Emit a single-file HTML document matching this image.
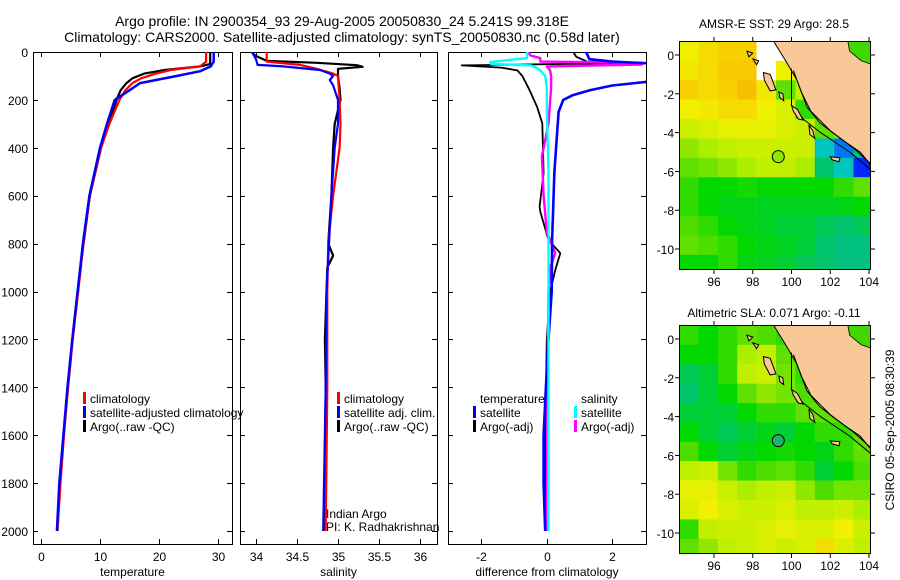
<!DOCTYPE html>
<html><head><meta charset="utf-8"><title>Argo profile</title>
<style>
html,body{margin:0;padding:0;background:#fff;}
svg{display:block;font-family:"Liberation Sans",sans-serif;}
text{font-family:"Liberation Sans",sans-serif;fill:#000;}
</style></head>
<body>
<svg id="fig" width="900" height="580" viewBox="0 0 900 580" xmlns="http://www.w3.org/2000/svg">
<text x="342" y="26" font-size="14" text-anchor="middle">Argo profile: IN 2900354_93 29-Aug-2005 20050830_24 5.241S 99.318E</text>
<text x="342" y="42" font-size="14" text-anchor="middle">Climatology: CARS2000. Satellite-adjusted climatology: synTS_20050830.nc (0.58d later)</text>
<text x="774" y="28" font-size="12" text-anchor="middle">AMSR-E SST: 29 Argo: 28.5</text>
<text x="774" y="317" font-size="12" text-anchor="middle">Altimetric SLA: 0.071 Argo: -0.11</text>
<text x="0" y="0" font-size="12" text-anchor="middle" transform="translate(894,430) rotate(-90)">CSIRO 05-Sep-2005 08:30:39</text>
<g id="layer"></g>
</svg>
<script>
// ---------- profile data ----------
const tArgoDepth = [0,50,60,75,90,110,130,160,200,300,400,600,800,1000,1200,1400,1600,1800,2000];
const tArgo      = [28.7,28.7,27,21,17.5,15.5,14.5,13.5,12.8,11.5,10.2,8.3,7.2,6.2,5.3,4.5,3.8,3.2,2.8];
const tClimDepth = [0,40,60,75,90,110,130,160,200,300,400,600,800,1000,1200,1400,1600,1800,2000];
const tClim      = [28,28,27,22,19.5,17,15.5,14.3,13.3,11.6,10.2,8.3,7.2,6.3,5.4,4.6,3.9,3.3,2.8];
const tSatDepth  = [0,40,60,80,100,130,160,200,300,400,600,800,1000,1200,1400,1600,1800,2000];
const tSat       = [29.3,29.3,28.8,27,23,16.8,15,12.5,11.2,10.0,8.2,7.1,6.2,5.3,4.5,3.8,3.1,2.7];

const sArgoDepth = [0,15,37,45,55,62,70,100,150,200,300,400,600,800,850,900,1000,1200,1400,2000];
const sArgo      = [33.95,33.99,34.13,34.74,35.23,35.3,35.0,35.0,35.02,35.03,34.96,34.94,34.92,34.88,34.94,34.87,34.86,34.84,34.85,34.83];
const sClimDepth = [0,30,40,54,70,90,100,200,300,400,600,800,1000,1400,2000];
const sClim      = [34.13,34.13,34.13,34.54,34.74,34.94,35.0,35.02,35.03,35.02,34.94,34.88,34.87,34.87,34.85];
const sSatDepth  = [0,30,54,56,60,75,90,100,117,139,200,300,400,600,800,1000,1400,2000];
const sSat       = [33.95,34.0,34.02,34.13,34.33,34.78,34.9,34.94,34.9,34.94,35.0,35.0,34.96,34.92,34.89,34.86,34.85,34.82];

const dTSatDepth = [0,30,40,50,100,124,140,159,180,200,250,500,785,1000,1200,1400,1600,1800,2000];
const dTSat      = [1.2,1.3,2.0,3.5,3.5,3.1,2.0,1.33,0.8,0.5,0.36,0.23,0.16,0.15,0.05,-0.03,-0.1,-0.1,-0.05];
const dTArgoDepth= [0,20,40,46,49,56,65,77,100,150,228,298,506,646,667,785,840,910,1000,1200,1600,2000];
const dTArgo     = [0.81,0.9,1.23,2.95,1.0,-2.6,-1.4,-0.9,-0.75,-0.56,-0.3,-0.14,-0.1,-0.22,-0.2,0.05,0.41,0.26,0.1,0.0,-0.05,-0.05];
const dSArgoDepth= [0,15,25,40,45,52,60,77,100,150,300,437,600,750,840,900,1000,1400,2000];
const dSArgo     = [-0.56,-0.5,-0.2,-0.2,2.95,2.9,0.0,0.1,0.13,0.13,0.05,-0.15,-0.1,0.0,0.26,0.1,0.05,0.02,0.0];
const dSSatDepth = [0,25,42,50,56,67,77,100,150,228,500,1000,1500,2000];
const dSSat      = [-0.6,-0.6,-1.73,-1.7,-0.5,-0.3,-0.2,-0.05,0.0,0.0,0.05,0.05,0.05,0.05];

const depthTicks = [0,200,400,600,800,1000,1200,1400,1600,1800,2000];
const tempTicks = [0,10,20,30];
const salTicks = [34,34.5,35,35.5,36];
const salTickLabels = ["34","34.5","35","35.5","36"];
const diffTicks = [-2,0,2];

// ---------- map data (1-degree cells, rows from lat 0.7 southward, cols from lon 94.2 eastward; -1 land, -2 missing) ----------
const mapLons = [94.2,95.2,96.2,97.2,98.2,99.2,100.2,101.2,102.2,103.2];
const mapLats = [0.7,-0.3,-1.3,-2.3,-3.3,-4.3,-5.3,-6.3,-7.3,-8.3,-9.3,-10.3];
const sstCells = [
 [.80,.85,.88,.88,-2,-2,-1,-1,-1,-1],
 [.82,.85,.90,.90,-2,.80,.95,-1,-1,-1],
 [.88,.85,.88,.92,.82,.60,.70,-1,-1,-1],
 [.80,.82,.85,.85,.80,.75,.55,.60,-1,-1],
 [.72,.75,.78,.78,.78,.75,.72,.60,.65,-1],
 [.65,.68,.70,.72,.72,.72,.72,.30,.20,.40],
 [.60,.62,.65,.68,.70,.70,.68,.40,.30,.15],
 [.55,.50,.50,.52,.50,.50,.50,.50,.55,.60],
 [.55,.50,.48,.48,.47,.47,.47,.47,.48,.50],
 [.58,.55,.50,.48,.47,.45,.45,.42,.40,.42],
 [.60,.58,.55,.50,.48,.47,.45,.40,.38,.38],
 [.50,.50,.55,.48,.47,.45,.42,.40,.38,.38]
];
const slaCells = [
 [.55,.50,.55,.60,.58,.55,-1,-1,-1,-1],
 [.50,.50,.55,.68,.70,.60,.55,-1,-1,-1],
 [.42,.45,.55,.70,.72,.62,.55,-1,-1,-1],
 [.40,.45,.50,.60,.65,.62,.58,.55,-1,-1],
 [.45,.45,.45,.50,.55,.55,.60,.60,.58,-1],
 [.50,.45,.42,.45,.48,.45,.50,.55,.55,.60],
 [.58,.50,.45,.48,.50,.52,.50,.48,.55,.60],
 [.70,.72,.62,.55,.58,.60,.55,.45,.50,.58],
 [.78,.78,.72,.68,.70,.72,.65,.58,.62,.62],
 [.75,.80,.75,.72,.72,.75,.70,.70,.72,.68],
 [.55,.70,.72,.72,.75,.78,.75,.75,.80,.72],
 [.60,.65,.70,.72,.75,.72,.75,.85,.75,.70]
];
const coastLon = [99.05,99.77,100.28,100.8,101.47,102.14,102.86,103.54,104.2,104.2];
const coastLat = [0.75,-0.41,-1.29,-2.68,-3.5,-4.02,-4.54,-5.0,-5.8,0.75];
const argoLon = 99.318, argoLat = -5.241;

const NS="http://www.w3.org/2000/svg";
const layer=document.getElementById('layer');
function mk(tag,attrs,parent){const e=document.createElementNS(NS,tag);for(const k in attrs)e.setAttribute(k,attrs[k]);(parent||layer).appendChild(e);return e;}

// depth axis
const depthTop=52, depthPx=0.2395;
function yD(d){return depthTop+d*depthPx;}
const panelBottom=544;

const panels=[
 {name:'temperature-panel',x0:33,x1:232,v0:-1.36,v1:32.4,ticks:tempTicks,labels:tempTicks.map(String),xlabel:'temperature'},
 {name:'salinity-panel',x0:240,x1:437,v0:33.805,v1:36.207,ticks:salTicks,labels:salTickLabels,xlabel:'salinity'},
 {name:'difference-panel',x0:448,x1:646,v0:-3.02,v1:3.03,ticks:diffTicks,labels:diffTicks.map(String),xlabel:'difference from climatology'}
];
panels.forEach((p,i)=>{
 p.sx=v=>p.x0+(v-p.v0)/(p.v1-p.v0)*(p.x1-p.x0);
 const g=mk('g',{});
 
 
 const cp=mk('clipPath',{id:'clip'+i},g);
 mk('rect',{x:p.x0,y:depthTop,width:p.x1-p.x0,height:panelBottom-depthTop},cp);
 p.g=g;
 const fr=mk('rect',{x:p.x0+0.5,y:depthTop+0.5,width:p.x1-p.x0,height:panelBottom-depthTop,fill:'none',stroke:'#000','stroke-width':1},g);
 
 
 p.ticks.forEach((t,k)=>{
  const x=Math.round(p.sx(t))+0.5;
  mk('line',{x1:x,x2:x,y1:panelBottom,y2:panelBottom-5,stroke:'#000'},g);
  mk('line',{x1:x,x2:x,y1:depthTop,y2:depthTop+5,stroke:'#000'},g);
  const tl=mk('text',{x:x,y:561,'font-size':12,'text-anchor':'middle'},g);
  tl.textContent=p.labels[k];
  
  
 });
 depthTicks.forEach(d=>{
  const y=Math.round(yD(d))+0.5;
  mk('line',{x1:p.x0,x2:p.x0+5,y1:y,y2:y,stroke:'#000'},g);
  mk('line',{x1:p.x1-5,x2:p.x1,y1:y,y2:y,stroke:'#000'},g);
 });
 const xl=mk('text',{x:(p.x0+p.x1)/2,y:576,'font-size':12,'text-anchor':'middle'},g);
 xl.textContent=p.xlabel;
 
 
});
depthTicks.forEach(d=>{
 const tl=mk('text',{x:28,y:yD(d)+5,'font-size':12,'text-anchor':'end'});
 tl.textContent=String(d);
 
 
});

function series(p,i,depths,vals,color,w,name){
 const pts=depths.map((d,k)=>p.sx(vals[k]).toFixed(1)+','+yD(d).toFixed(1)).join(' ');
 const l=mk('polyline',{points:pts,fill:'none',stroke:color,'stroke-width':w,'clip-path':'url(#clip'+i+')','stroke-linejoin':'round'},p.g);
 
 
}
const [P1,P2,P3]=panels;
series(P1,0,tArgoDepth,tArgo,'#000',2.2,'temperature-argo-line');
series(P1,0,tClimDepth,tClim,'#f00',2.2,'temperature-climatology-line');
series(P1,0,tSatDepth,tSat,'#00f',2.5,'temperature-satellite-line');
series(P2,1,sArgoDepth,sArgo,'#000',2.2,'salinity-argo-line');
series(P2,1,sClimDepth,sClim,'#f00',2.2,'salinity-climatology-line');
series(P2,1,sSatDepth,sSat,'#00f',2.2,'salinity-satellite-line');
series(P3,2,dTArgoDepth,dTArgo,'#000',1.8,'temp-diff-argo-line');
series(P3,2,dSArgoDepth,dSArgo,'#f0f',2.4,'sal-diff-argo-line');
series(P3,2,dTSatDepth,dTSat,'#00f',2.6,'temp-diff-satellite-line');
series(P3,2,dSSatDepth,dSSat,'#0ff',2.4,'sal-diff-satellite-line');

// legends
function legend(x,y,color,label,name){
 if(color){const b=mk('rect',{x:x,y:y-6,width:3,height:12,fill:color});
  
  }
 const t=mk('text',{x:x+7,y:y+5,'font-size':12});
 t.textContent=label;
 
 
}
legend(83,398,'#f00','climatology','legend-climatology');
legend(83,412,'#00f','satellite-adjusted climatology','legend-satellite-adjusted');
legend(83,426,'#000','Argo(..raw -QC)','legend-argo');
legend(337,398,'#f00','climatology','legend-sal-climatology');
legend(337,412,'#00f','satellite adj. clim.','legend-sal-satellite');
legend(337,426,'#000','Argo(..raw -QC)','legend-sal-argo');
legend(473,398,null,'temperature','legend-temperature-heading');
legend(473,412,'#00f','satellite','legend-diff-temp-satellite');
legend(473,426,'#000','Argo(-adj)','legend-diff-temp-argo');
legend(574,398,null,'salinity','legend-salinity-heading');
legend(574,412,'#0ff','satellite','legend-diff-sal-satellite');
legend(574,426,'#f0f','Argo(-adj)','legend-diff-sal-argo');
const ia=mk('text',{x:326,y:518,'font-size':12});ia.textContent='Indian Argo';


const pi=mk('text',{x:326,y:531,'font-size':12});pi.textContent='PI: K. Radhakrishnan';



// ---------- maps ----------
const cstops=[[0,[0,0,128]],[0.15,[0,40,255]],[0.25,[0,200,230]],[0.38,[0,192,128]],[0.5,[0,216,0]],[0.6,[96,224,0]],[0.7,[192,240,0]],[0.8,[240,240,0]],[0.9,[248,200,0]],[1,[248,152,0]]];
function cmap(v){v=Math.max(0,Math.min(1,v));for(let k=1;k<cstops.length;k++){if(v<=cstops[k][0]){const a=cstops[k-1],b=cstops[k],f=(v-a[0])/(b[0]-a[0]);return 'rgb('+a[1].map((c,j)=>Math.round(c+(b[1][j]-c)*f)).join(',')+')';}}}
function drawMap(name,top,cells,argoFill){
 const x0=679,x1=871,y1=top+229;
 const lat0y=top+14; // y of lat 0
 const sx=l=>714+(l-96)*19.375, sy=la=>lat0y-la*19.4;
 const g=mk('g',{});
 
 
 const cid='clip'+name;
 const cp=mk('clipPath',{id:cid},g);
 mk('rect',{x:x0,y:top,width:x1-x0,height:y1-top},cp);
 const inner=mk('g',{'clip-path':'url(#'+cid+')'},g);
 mk('rect',{x:x0,y:top,width:x1-x0,height:y1-top,fill:'#fff'},inner);
 cells.forEach((row,r)=>row.forEach((v,c)=>{
  const fill=v===-1?'#f8c898':(v===-2?'#fff':cmap(v));
  const rc=mk('rect',{x:sx(mapLons[c]),y:sy(mapLats[r]),width:19.6,height:19.6,fill:fill},inner);
  
  
 }));
 const land=mk('polygon',{points:coastLon.map((l,k)=>sx(l).toFixed(1)+','+sy(coastLat[k]).toFixed(1)).join(' '),fill:'#f8c898',stroke:'#000','stroke-width':1},inner);
 
 
 // offshore contour line
 mk('polyline',{points:[[100,-0.7],[100,-2.6],[100.6,-3.3],[101.5,-4.0],[103,-5.0],[104.2,-6.0]].map(p=>sx(p[0])+','+sy(p[1])).join(' '),fill:'none',stroke:'#000','stroke-width':1},inner);
 mk('polyline',{points:[[100.1,-0.8],[100.5,-1.9],[101.0,-2.9],[102.0,-3.9],[103.2,-4.8],[104.2,-5.7]].map(p=>sx(p[0])+','+sy(p[1])).join(' '),fill:'none',stroke:'#000','stroke-width':1},inner);
 const isl=[[[98.55,-0.9],[98.9,-1.0],[99.2,-1.8],[98.9,-1.85],[98.6,-1.3]],
            [[99.35,-1.9],[99.55,-2.0],[99.6,-2.35],[99.4,-2.2]],
            [[100.0,-2.6],[100.3,-2.8],[100.6,-3.35],[100.35,-3.3],[100.1,-2.9]],
            [[100.9,-3.6],[101.1,-3.9],[101.2,-4.3],[100.95,-4.1]],
            [[102.0,-5.25],[102.5,-5.3],[102.45,-5.5],[102.1,-5.4]],
            [[98.0,-0.2],[98.3,-0.3],[98.2,-0.5]],[[97.7,0.2],[98.0,0.1],[97.8,-0.1]]];
 isl.forEach(pl=>{const e=mk('polygon',{points:pl.map(p=>sx(p[0]).toFixed(1)+','+sy(p[1]).toFixed(1)).join(' '),fill:'#f8c898',stroke:'#000','stroke-width':1},inner);
  
  });
 const gp=mk('polygon',{points:[[102.9,0.75],[104.2,0.75],[104.2,-0.5],[103.6,-0.3],[103.0,0.2]].map(p=>sx(p[0])+','+sy(p[1])).join(' '),fill:'#40d800',stroke:'#000','stroke-width':0.8},inner);
 
 
 const ac=mk('circle',{cx:sx(argoLon),cy:sy(argoLat),r:6,fill:argoFill,stroke:'#000','stroke-width':1},inner);
 
 
 mk('rect',{x:x0+0.5,y:top+0.5,width:x1-x0-1,height:y1-top-1,fill:'none',stroke:'#000'},g);
 [96,98,100,102,104].forEach(l=>{const x=sx(l);
  mk('line',{x1:x,x2:x,y1:y1,y2:y1+4,stroke:'#000'},g);
  mk('line',{x1:x,x2:x,y1:top,y2:top-4,stroke:'#000'},g);
  const t=mk('text',{x:x,y:y1+16,'font-size':12,'text-anchor':'middle'},g);t.textContent=String(l);
  
  });
 [0,-2,-4,-6,-8,-10].forEach(la=>{const y=sy(la);
  mk('line',{x1:x0-4,x2:x0,y1:y,y2:y,stroke:'#000'},g);
  mk('line',{x1:x1,x2:x1+4,y1:y,y2:y,stroke:'#000'},g);
  const t=mk('text',{x:674,y:y+5,'font-size':12,'text-anchor':'end'},g);t.textContent=String(la);
  
  });
}
drawMap('sst-map',41,sstCells,'#90e800');
drawMap('sla-map',325,slaCells,'#20b070');
</script>
</body></html>
